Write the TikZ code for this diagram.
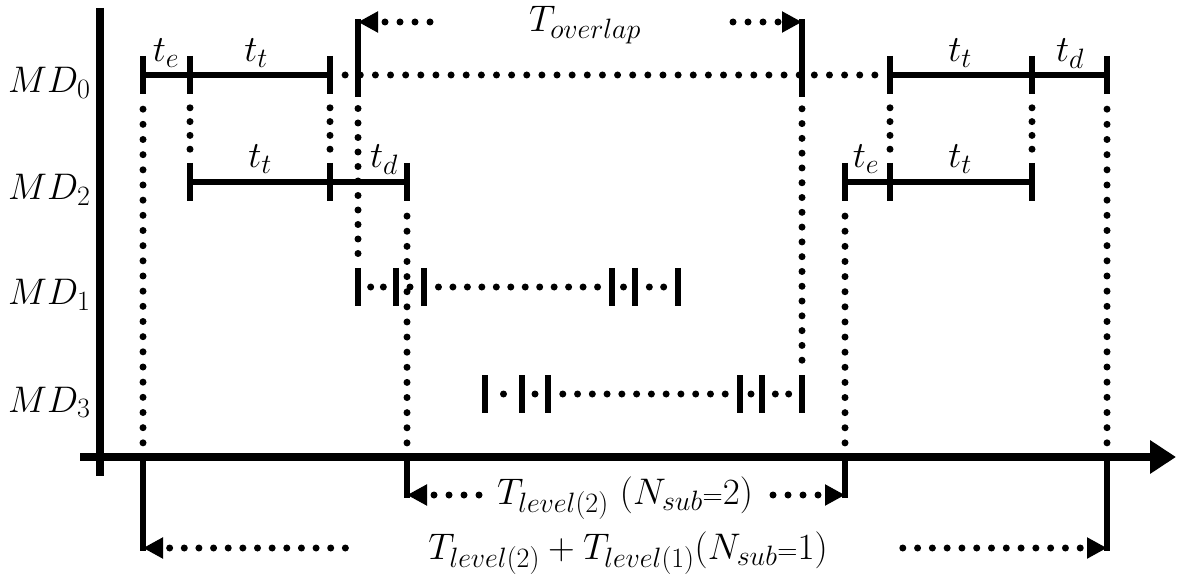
\RequirePackage{fix-cm}
\documentclass[tikz,border=0pt]{standalone}
\usetikzlibrary{arrows.meta}
\DeclareMathSizes{37}{37}{28}{20}
\newcommand\dotrun[4]{%
  \pgfmathtruncatemacro\nn{max(2,round(veclen(#3-#1,#4-#2)/15))}%
  \pgfmathtruncatemacro\mm{\nn-1}%
  \foreach \i in {1,...,\mm}{\fill ({#1+(#3-#1)/\nn*\i},{#2+(#4-#2)/\nn*\i}) circle[radius=3.5];}}
\begin{document}
\begin{tikzpicture}[x=1pt,y=-1pt,
  axisline/.style={line width=8.5pt},
  seg/.style={line width=5.5pt},
  elbow/.style={line width=5.5pt},
  arrhead/.style={-{Triangle[length=20pt,width=20pt]}},
  lab/.style={font=\fontsize{37}{42}\selectfont,inner sep=0pt},
  tk/.pic={\draw[line width=6.5pt] (0,-19)--(0,19);}
]
\useasboundingbox (0,0) rectangle (1180,577);

% ---- vertical dotted guide lines
\dotrun{143}{94}{143}{458}
\dotrun{190}{94}{190}{163}
\dotrun{330}{94}{330}{163}
\dotrun{358}{94}{358}{268}
\dotrun{407}{201}{407}{458}
\dotrun{802}{94}{802}{375}
\dotrun{845}{201}{845}{458}
\dotrun{890}{94}{890}{163}
\dotrun{1032}{94}{1032}{163}
\dotrun{1107}{94}{1107}{458}

% ---- MD0 row
\dotrun{330}{75}{890}{75}
\draw[seg] (143,75)--(330,75);
\draw[seg] (890,75)--(1107,75);
\foreach \x in {143,190,330,890,1032,1107} \pic at (\x,75) {tk};

% ---- MD2 row
\draw[seg] (190,182)--(407,182);
\draw[seg] (845,182)--(1032,182);
\foreach \x in {190,330,407,845,890,1032} \pic at (\x,182) {tk};

% ---- MD1 row
\dotrun{358}{287}{396}{287}
\dotrun{396}{287}{424}{287}
\dotrun{424}{287}{612}{287}
\dotrun{612}{287}{635}{287}
\dotrun{635}{287}{678}{287}
\foreach \x in {358,396,424,612,635,678} \pic at (\x,287) {tk};

% ---- MD3 row
\dotrun{485}{394}{522}{394}
\dotrun{522}{394}{548}{394}
\dotrun{548}{394}{740}{394}
\dotrun{740}{394}{762}{394}
\dotrun{762}{394}{802}{394}
\foreach \x in {485,522,548,740,762,802} \pic at (\x,394) {tk};

% ---- T_overlap elbows
\draw[elbow] (358,97)--(358,19.5);
\draw[elbow,arrhead] (378,22)--(358,22);
\dotrun{370}{22}{445}{22}
\draw[elbow] (802,97)--(802,19.5);
\draw[elbow,arrhead] (782,22)--(802,22);
\dotrun{718}{22}{793}{22}

% ---- T_level(2) elbows
\draw[elbow] (407,457)--(407,497.5);
\draw[elbow,arrhead] (427,495)--(407,495);
\dotrun{419}{495}{494}{495}
\draw[elbow] (845,457)--(845,497.5);
\draw[elbow,arrhead] (825,495)--(845,495);
\dotrun{758}{495}{833}{495}

% ---- T_level(2)+T_level(1) elbows
\draw[elbow] (143,457)--(143,550.5);
\draw[elbow,arrhead] (163,548)--(143,548);
\dotrun{155}{548}{360}{548}
\draw[elbow] (1107,457)--(1107,550.5);
\draw[elbow,arrhead] (1087,548)--(1107,548);
\dotrun{888}{548}{1095}{548}

% ---- axes
\draw[axisline] (100,8)--(100,476);
\draw[axisline,-{Triangle[length=26pt,width=32pt]}] (80,457)--(1176,457);

% ---- row labels
\node[lab,anchor=base west] (md0) at (8,93) {$MD_0$};
\node[lab,anchor=base west] (md2) at (8,200) {$MD_2$};
\node[lab,anchor=base west] (md1) at (8,305) {$MD_1$};
\node[lab,anchor=base west] (md3) at (8,412) {$MD_3$};

% ---- segment labels
\node[lab,anchor=base] (te0) at (166,62) {$t_e$};
\node[lab,anchor=base] (tt0) at (256,62) {$t_t$};
\node[lab,anchor=base] (tt0r) at (960,62) {$t_t$};
\node[lab,anchor=base] (td0r) at (1070,62) {$t_d$};
\node[lab,anchor=base] (tt2) at (260,168) {$t_t$};
\node[lab,anchor=base] (td2) at (384,168) {$t_d$};
\node[lab,anchor=base] (te2r) at (866,168) {$t_e$};
\node[lab,anchor=base] (tt2r) at (960,168) {$t_t$};

% ---- interval labels
\node[lab,anchor=base] (tov) at (585,32) {$T_{overlap}$};
\node[lab,anchor=base] (tl2) at (625,504) {$T_{level(2)}\ (N_{sub}{\scriptstyle=}2)$};
\node[lab,anchor=base] (tl21) at (628,559) {$T_{level(2)}+T_{level(1)}(N_{sub}{\scriptstyle=}1)$};
\end{tikzpicture}
\end{document}
